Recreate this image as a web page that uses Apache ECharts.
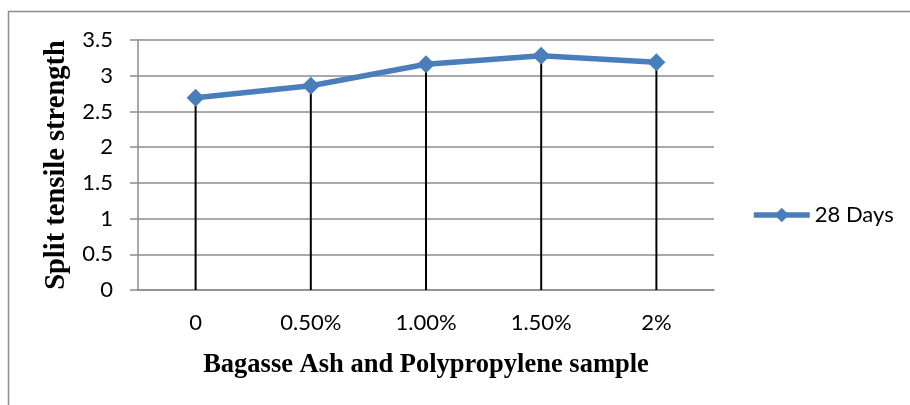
<!DOCTYPE html>
<html><head><meta charset="utf-8">
<script src="https://cdn.jsdelivr.net/npm/echarts@6/dist/echarts.min.js"></script>
<style>html,body{margin:0;padding:0;background:#fff}#c{width:910px;height:405px}</style>
</head><body><div id="c"></div>
<script>
const categories = ['0', '0.50%', '1.00%', '1.50%', '2%'];
const days28 = [2.69, 2.86, 3.16, 3.28, 3.19];
const seriesName = '28 Days';
const yTitle = 'Split tensile strength';
const xTitle = 'Bagasse Ash and Polypropylene sample';

const chart = echarts.init(document.getElementById('c'));
const tickFont = {fontFamily: 'Lato, "Open Sans", sans-serif', fontSize: 22, color: '#000'};
const titleFont = {fontFamily: '"Liberation Serif", "Times New Roman", serif', fontWeight: 'bold', color: '#000'};
chart.setOption({
  animation: false,
  graphic: [{type: 'rect', shape: {x: 8.5, y: 11.5, width: 1000, height: 500}, style: {fill: 'none', stroke: '#8c8c8c', lineWidth: 1.5}, silent: true}],
  grid: {left: 138, right: 196, top: 40, bottom: 115},
  legend: {
    orient: 'vertical',
    left: 746, top: 199,
    itemWidth: 56, itemHeight: 18, itemGap: 4,
    textStyle: tickFont,
    lineStyle: {width: 5.5, color: '#4a7ebb'},
    data: [seriesName]
  },
  xAxis: {
    type: 'category', data: categories, boundaryGap: true,
    axisLine: {lineStyle: {color: '#8c8c8c', width: 1.5}},
    axisTick: {show: false},
    axisLabel: Object.assign({margin: 22}, tickFont),
    name: xTitle, nameLocation: 'middle', nameGap: 62,
    nameTextStyle: Object.assign({fontSize: 26.5}, titleFont)
  },
  yAxis: {
    type: 'value', min: 0, max: 3.5, interval: 0.5,
    axisLine: {show: true, lineStyle: {color: '#8c8c8c', width: 1.5}},
    axisTick: {show: true, length: 8, lineStyle: {color: '#8c8c8c', width: 1.5}},
    splitLine: {lineStyle: {color: '#8c8c8c', width: 1.5}},
    axisLabel: Object.assign({margin: 25}, tickFont),
    name: yTitle, nameLocation: 'middle', nameGap: 61,
    nameTextStyle: Object.assign({fontSize: 28.5}, titleFont)
  },
  series: [
    {
      type: 'bar', data: days28, barWidth: 2, z: 1,
      itemStyle: {color: '#000'}, silent: true, legendHoverLink: false
    },
    {
      name: seriesName, type: 'line', data: days28, z: 3,
      symbol: 'diamond', symbolSize: 18,
      lineStyle: {color: '#4a7ebb', width: 5.5},
      itemStyle: {color: '#4a7ebb'}
    }
  ]
});
</script></body></html>
